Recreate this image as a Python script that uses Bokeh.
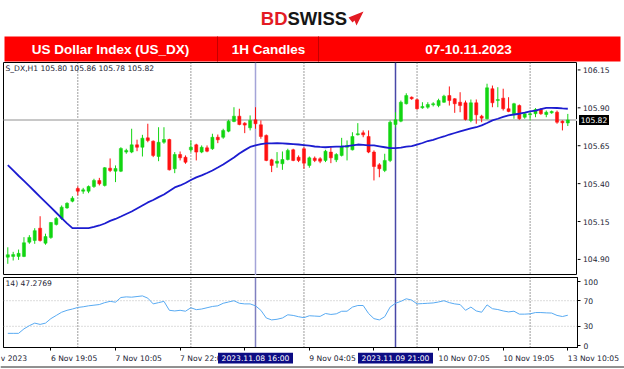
from bokeh.plotting import figure
from bokeh.layouts import column, row
from bokeh.models import Range1d, FixedTicker, Span, Label, ColumnDataSource
from bokeh.embed import file_html
from bokeh.resources import INLINE
from bokeh.core.properties import value

# ---------------- data ----------------
header_cells = ["US Dollar Index (US_DX)", "1H Candles", "07-10.11.2023"]

opens = [104.915, 104.920, 104.920, 104.920, 105.014, 105.025, 105.106, 105.007, 105.045, 105.131,
         105.170, 105.240, 105.284, 105.368, 105.350, 105.350, 105.381, 105.421, 105.388, 105.502,
         105.482, 105.482, 105.608, 105.608, 105.656, 105.640, 105.702, 105.680, 105.579, 105.673,
         105.691, 105.498, 105.592, 105.574, 105.623, 105.656, 105.608, 105.636, 105.630, 105.706,
         105.706, 105.746, 105.810, 105.845, 105.799, 105.768, 105.821, 105.788, 105.718, 105.557,
         105.535, 105.531, 105.559, 105.623, 105.574, 105.630, 105.520, 105.568, 105.564, 105.553,
         105.608, 105.557, 105.586, 105.640, 105.623, 105.722, 105.735, 105.711, 105.608, 105.524,
         105.487, 105.553, 105.790, 105.812, 105.927, 105.970, 105.953, 105.900, 105.904, 105.920,
         105.915, 105.937, 105.981, 105.960, 105.937, 105.933, 105.817, 105.933, 105.845, 105.828,
         106.026, 105.948, 105.964, 105.894, 105.861, 105.915, 105.838, 105.854, 105.861, 105.889,
         105.856, 105.867, 105.871, 105.812, 105.800]
highs = [104.980, 104.950, 104.965, 105.047, 105.060, 105.106, 105.185, 105.070, 105.146, 105.180,
         105.256, 105.277, 105.317, 105.381, 105.372, 105.388, 105.432, 105.438, 105.509, 105.566,
         105.520, 105.640, 105.630, 105.762, 105.690, 105.722, 105.795, 105.685, 105.772, 105.772,
         105.696, 105.608, 105.612, 105.586, 105.685, 105.663, 105.652, 105.652, 105.729, 105.724,
         105.762, 105.821, 105.904, 105.894, 105.805, 105.850, 105.904, 105.817, 105.724, 105.564,
         105.608, 105.612, 105.630, 105.630, 105.586, 105.640, 105.579, 105.579, 105.574, 105.623,
         105.640, 105.601, 105.702, 105.685, 105.739, 105.799, 105.751, 105.751, 105.619, 105.535,
         105.597, 105.817, 105.871, 105.948, 105.996, 105.975, 105.960, 105.937, 105.937, 105.937,
         105.960, 105.986, 106.041, 105.964, 106.003, 105.948, 105.955, 105.955, 105.854, 106.059,
         106.047, 106.036, 106.026, 105.970, 105.933, 105.922, 105.867, 105.876, 105.898, 105.898,
         105.882, 105.882, 105.882, 105.817, 105.860]
lows = [104.871, 104.893, 104.897, 104.915, 105.003, 105.003, 105.018, 104.997, 105.036, 105.124,
        105.160, 105.234, 105.277, 105.322, 105.333, 105.337, 105.372, 105.388, 105.381, 105.476,
        105.410, 105.476, 105.597, 105.601, 105.614, 105.579, 105.673, 105.575, 105.548, 105.663,
        105.487, 105.469, 105.553, 105.531, 105.607, 105.553, 105.601, 105.607, 105.623, 105.667,
        105.696, 105.739, 105.805, 105.785, 105.733, 105.751, 105.762, 105.696, 105.548, 105.476,
        105.505, 105.491, 105.553, 105.548, 105.542, 105.498, 105.505, 105.542, 105.535, 105.542,
        105.535, 105.542, 105.579, 105.553, 105.619, 105.718, 105.706, 105.601, 105.421, 105.442,
        105.476, 105.542, 105.770, 105.805, 105.922, 105.953, 105.887, 105.894, 105.894, 105.909,
        105.904, 105.933, 105.915, 105.867, 105.871, 105.817, 105.805, 105.795, 105.805, 105.823,
        105.904, 105.904, 105.882, 105.871, 105.828, 105.821, 105.828, 105.817, 105.838, 105.854,
        105.838, 105.861, 105.795, 105.751, 105.780]
closes = [104.931, 104.932, 104.940, 105.010, 105.045, 105.090, 105.025, 105.051, 105.144, 105.170,
          105.245, 105.270, 105.304, 105.350, 105.359, 105.381, 105.421, 105.399, 105.505, 105.487,
          105.500, 105.632, 105.619, 105.656, 105.640, 105.700, 105.685, 105.586, 105.673, 105.691,
          105.491, 105.592, 105.570, 105.541, 105.640, 105.608, 105.640, 105.614, 105.706, 105.689,
          105.751, 105.812, 105.845, 105.790, 105.786, 105.817, 105.795, 105.711, 105.553, 105.520,
          105.548, 105.559, 105.619, 105.553, 105.553, 105.535, 105.570, 105.553, 105.548, 105.614,
          105.570, 105.592, 105.645, 105.652, 105.711, 105.729, 105.722, 105.608, 105.513, 105.498,
          105.553, 105.805, 105.821, 105.937, 105.981, 105.960, 105.894, 105.909, 105.922, 105.927,
          105.948, 105.977, 105.948, 105.927, 105.915, 105.823, 105.933, 105.854, 105.832, 106.032,
          105.933, 105.955, 105.894, 105.876, 105.927, 105.828, 105.861, 105.861, 105.889, 105.861,
          105.871, 105.876, 105.805, 105.801, 105.820]
ma = [105.522, 105.487, 105.452, 105.418, 105.383, 105.348, 105.313, 105.278, 105.243, 105.208,
      105.173, 105.138, 105.106, 105.106, 105.106, 105.106, 105.114, 105.124, 105.137, 105.154,
      105.167, 105.183, 105.200, 105.216, 105.236, 105.256, 105.276, 105.292, 105.311, 105.328,
      105.352, 105.375, 105.388, 105.404, 105.424, 105.441, 105.454, 105.470, 105.487, 105.506,
      105.526, 105.549, 105.572, 105.599, 105.621, 105.642, 105.652, 105.661, 105.665, 105.666,
      105.667, 105.665, 105.663, 105.661, 105.658, 105.654, 105.650, 105.645, 105.642, 105.640,
      105.642, 105.644, 105.645, 105.648, 105.653, 105.658, 105.655, 105.652, 105.652, 105.646,
      105.640, 105.634, 105.634, 105.638, 105.644, 105.648, 105.658, 105.668, 105.681, 105.689,
      105.701, 105.711, 105.724, 105.734, 105.744, 105.754, 105.764, 105.772, 105.784, 105.800,
      105.817, 105.828, 105.840, 105.850, 105.856, 105.861, 105.868, 105.876, 105.882, 105.892,
      105.900, 105.900, 105.899, 105.896, 105.894]
rsi = [19, 19, 19, 26, 31, 35, 33, 35, 42, 47,
       52, 55, 57, 59.5, 60.5, 62, 63, 64, 67, 69,
       67.7, 75, 76, 75.5, 76.5, 77.5, 74, 65, 67, 69,
       55, 54, 55, 53.6, 59, 56, 57, 59, 61, 62,
       66, 68, 70, 66, 65, 65, 62, 55, 43, 40,
       41, 43, 48, 47, 45, 43.5, 46.5, 46, 45.5, 50,
       48.5, 49.5, 53.5, 53.6, 60, 62.5, 62.5, 50, 42, 40,
       45, 60, 66, 69, 73, 71, 65, 65.5, 66, 66.5,
       68, 70, 67, 65, 64, 55, 60, 54, 52, 63.5,
       57.5, 56.2, 54, 52.5, 53.6, 49, 49, 49.5, 51.5, 51.5,
       51, 50.7, 47, 45.3, 47.3]

price_ticks = [104.90, 105.15, 105.40, 105.65, 105.90, 106.15]
rsi_ticks = [0, 30, 70, 100]
grid_idx = [13, 34, 55, 76, 97]
time_tick_idx = [8, 20, 32, 44, 56, 68, 80, 92, 104]
label_idx = [-1.3, 8, 20, 32, 56, 80, 92, 104]
time_labels = ["v 2023", "6 Nov 19:05", "7 Nov 10:05", "7 Nov 22:05", "9 Nov 04:05",
               "10 Nov 07:05", "10 Nov 19:05", "13 Nov 10:05"]
cross_idx = [46, 72]
cross_labels = ["2023.11.08 16:00", "2023.11.09 21:00"]
last_price = 105.82
info_text = "S_DX,H1  105.80 105.86 105.78 105.82"
rsi_text = "14) 47.2769"

# ---------------- derived ----------------
n = len(opens)
idx = list(range(n))
UP, DN = "#12d512", "#ff1111"
cols = [UP if c >= o else DN for o, c in zip(opens, closes)]
src = ColumnDataSource(dict(
    x=idx, o=opens, h=highs, l=lows, c=closes,
    top=[max(o, c) for o, c in zip(opens, closes)],
    bot=[min(o, c) for o, c in zip(opens, closes)],
    col=cols, ma=ma, rsi=rsi))

FONT = "DejaVu Sans"
FS = "7.6px"
TXT = "#1c1c34"
GRID = "#3c3c3c"
GDASH = "1 2"


def no_align(p):
    try:
        p.frame_align = False
    except AttributeError:
        pass


def bare(p):
    p.grid.visible = False
    p.outline_line_color = None
    no_align(p)


# ---------------- header ----------------
hdr = figure(width=624, height=62, x_range=Range1d(0, 624), y_range=Range1d(62, 0),
             toolbar_location=None, output_backend="svg", min_border=0,
             x_axis_location=None, y_axis_location=None)
bare(hdr)
hdr.quad(left=[4], right=[620], top=[36], bottom=[61], fill_color="#ff0000", line_color=None)
hdr.segment(x0=[217, 318], y0=[36, 36], x1=[217, 318], y1=[61, 61], line_color="#c40000", line_width=1)
hdr.text(x=[110, 268, 468], y=[49, 49, 49], text=header_cells, text_color="white",
         text_font=value("Liberation Sans"), text_font_style="bold", text_font_size="13.5px",
         text_align="center", text_baseline="middle")
hdr.text(x=[287], y=[18], text=["BD"], text_color="#e31b23", text_font=value("Liberation Sans"),
         text_font_style="bold", text_font_size="18.5px", text_align="right", text_baseline="middle")
hdr.text(x=[287], y=[18], text=["SWISS"], text_color="#161616", text_font=value("Liberation Sans"),
         text_font_style="bold", text_font_size="18.5px", text_align="left", text_baseline="middle")
hdr.patch(x=[348, 363, 356, 354, 352], y=[17, 11, 25, 20, 22], fill_color="#e31b23", line_color=None)

# ---------------- price panel ----------------
pf = figure(width=577, height=213, x_range=Range1d(-0.8, 105.8), y_range=Range1d(104.794, 106.199),
            toolbar_location=None, output_backend="svg", x_axis_location=None, y_axis_location=None,
            min_border_left=3, min_border_right=0, min_border_top=0, min_border_bottom=0)
pf.grid.visible = False
pf.outline_line_color = "black"
no_align(pf)

for g in grid_idx:
    pf.add_layout(Span(location=g, dimension="height", line_color=GRID, line_dash=GDASH,
                       line_width=1, level="underlay"))
pf.add_layout(Span(location=last_price, dimension="width", line_color="#c8c8c8", line_width=2, level="underlay"))
pf.add_layout(Span(location=cross_idx[0], dimension="height", line_color="#a4a4d8", line_width=1.5, level="underlay"))
pf.add_layout(Span(location=cross_idx[1], dimension="height", line_color="#4848a8", line_width=1.5, level="underlay"))

pf.segment(x0="x", y0="h", x1="x", y1="l", line_color="col", line_width=1, source=src)
pf.vbar(x="x", width=0.58, top="top", bottom="bot", fill_color="col", line_color="col",
        line_width=0.5, source=src)
pf.line(x="x", y="ma", line_color="#1c1cd0", line_width=1.8, source=src)

pf.add_layout(Label(x=-0.8, y=106.16, text=info_text, x_offset=2, text_baseline="middle",
                    text_font=FONT, text_font_size=FS, text_color=TXT))

# price scale strip (shares the price y scale)
pax = figure(width=47, height=213, x_range=Range1d(0, 47), y_range=pf.y_range,
             toolbar_location=None, output_backend="svg", min_border=0,
             x_axis_location=None, y_axis_location=None)
bare(pax)
pax.segment(x0=0, x1=3, y0=price_ticks, y1=price_ticks, line_color="black", line_width=1)
pax.text(x=5.5, y=price_ticks, text=["%.2f" % t for t in price_ticks], text_font=value(FONT),
         text_font_size=FS, text_color=TXT, text_baseline="middle", text_align="left")
pax.rect(x=16.5, y=[last_price], width=30, height=10, width_units="screen", height_units="screen",
         fill_color="black", line_color=None)
pax.text(x=16.5, y=[last_price], text=["%.2f" % last_price], text_font=value(FONT),
         text_font_size=FS, text_color="white", text_baseline="middle", text_align="center")

# ---------------- RSI panel ----------------
rf = figure(width=624, height=77, x_range=pf.x_range, y_range=Range1d(-3.1, 106.25),
            toolbar_location=None, output_backend="svg", x_axis_location="below", y_axis_location="right",
            min_border_left=3, min_border_right=47, min_border_top=2, min_border_bottom=5)
rf.grid.visible = False
rf.outline_line_color = "black"
no_align(rf)
ry = rf.yaxis[0]
ry.ticker = FixedTicker(ticks=rsi_ticks)
rx = rf.xaxis[0]
rx.ticker = FixedTicker(ticks=time_tick_idx)
for a in [ry, rx]:
    a.axis_line_color = "black"
    a.major_tick_out = 3
    a.major_tick_in = 0
    a.minor_tick_out = 0
    a.minor_tick_in = 0
    a.major_label_standoff = 3
    a.major_label_text_font = FONT
    a.major_label_text_font_size = FS
    a.major_label_text_color = TXT
# time labels are drawn in the strip below (left-aligned like the terminal)
rx.major_label_standoff = 0
rx.major_label_text_font_size = "1px"
rx.major_label_text_color = None

for g in grid_idx:
    rf.add_layout(Span(location=g, dimension="height", line_color=GRID, line_dash=GDASH,
                       line_width=1, level="underlay"))
for lv in [30, 70]:
    rf.add_layout(Span(location=lv, dimension="width", line_color="#b8b8b8", line_dash=GDASH,
                       line_width=1, level="underlay"))
rf.add_layout(Span(location=cross_idx[0], dimension="height", line_color="#8080c0", line_width=1.5, level="underlay"))
rf.add_layout(Span(location=cross_idx[1], dimension="height", line_color="#4848a8", line_width=1.5, level="underlay"))
rf.line(x="x", y="rsi", line_color="#58aaf2", line_width=1, source=src)
rf.add_layout(Label(x=-0.8, y=97.5, text=rsi_text, x_offset=2, text_baseline="middle",
                    text_font=FONT, text_font_size=FS, text_color=TXT))

# ---------------- time scale strip (same index scale as the panels) ----------------
px_per_bar = 574 / (105.8 - (-0.8))
xs0 = -0.8 - 3 / px_per_bar
xs1 = -0.8 + 621 / px_per_bar
xst = figure(width=624, height=17, x_range=Range1d(xs0, xs1), y_range=Range1d(17, 0),
             toolbar_location=None, output_backend="svg", min_border=0,
             x_axis_location=None, y_axis_location=None)
bare(xst)
xst.text(x=label_idx, y=5.5, text=time_labels, text_font=value(FONT), text_font_size=FS,
         text_color=TXT, text_baseline="middle", text_align="left")
xst.rect(x=cross_idx, y=5.5, width=75, height=11, width_units="screen", height_units="screen",
         fill_color="#0c0c84", line_color=None)
xst.text(x=cross_idx, y=5.5, text=cross_labels, text_font=value(FONT), text_font_size=FS,
         text_color="white", text_baseline="middle", text_align="center")
xst.add_layout(Span(location=14.5, dimension="width", line_color="#222222", line_width=1))

layout = column(hdr, row(pf, pax), rf, xst)
open("out.html", "w").write(file_html(layout, INLINE))
